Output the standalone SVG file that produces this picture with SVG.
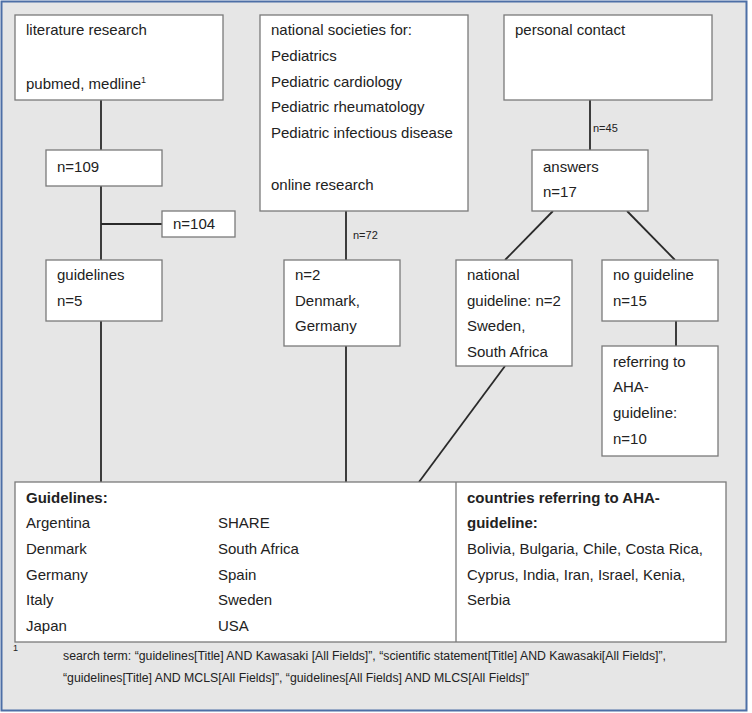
<svg xmlns="http://www.w3.org/2000/svg" width="752" height="713" viewBox="0 0 752 713">
<style>
text{font-family:"Liberation Sans",Arial,sans-serif;font-size:15px;fill:#222}
.b{font-weight:bold}
.s{font-size:11px}
.f{font-size:12px}
.sup{font-size:9px}
.box{fill:#fff;stroke:#7a7a7a;stroke-width:1.3}
.ln{stroke:#2a2a2a;stroke-width:1.8;fill:none}
</style>
<rect x="1.5" y="1.5" width="745" height="709" fill="#e6e6e6" stroke="#4d6fa6" stroke-width="2"/>
<g id="connectors">
<line class="ln" x1="101" y1="100" x2="101" y2="150"/>
<line class="ln" x1="101" y1="186" x2="101" y2="260"/>
<line class="ln" x1="101" y1="224" x2="162" y2="224"/>
<line class="ln" x1="101" y1="321" x2="101" y2="482"/>
<line class="ln" x1="346" y1="211" x2="346" y2="260"/>
<line class="ln" x1="346" y1="346" x2="346" y2="482"/>
<line class="ln" x1="590" y1="100" x2="590" y2="150"/>
<line class="ln" x1="553" y1="211" x2="505" y2="260"/>
<line class="ln" x1="627" y1="211" x2="675" y2="260"/>
<line class="ln" x1="505" y1="366" x2="419" y2="482"/>
<line class="ln" x1="676" y1="321" x2="676" y2="346"/>
<text class="s" x="353" y="239">n=72</text>
<text class="s" x="593" y="132">n=45</text>
</g>
<g id="lit">
<rect class="box" x="15" y="15" width="208" height="85"/>
<text x="26" y="35">literature research</text>
<text x="26" y="89">pubmed, medline<tspan class="sup" dy="-6">1</tspan></text>
</g>
<g id="n109">
<rect class="box" x="46" y="150" width="116" height="36"/>
<text x="57" y="172">n=109</text>
</g>
<g id="n104">
<rect class="box" x="162" y="211" width="73" height="26"/>
<text x="173" y="229">n=104</text>
</g>
<g id="guidelines5">
<rect class="box" x="46" y="260" width="116" height="61"/>
<text x="57" y="280">guidelines</text>
<text x="57" y="306">n=5</text>
</g>
<g id="societies">
<rect class="box" x="260" y="15" width="208" height="196"/>
<text x="271" y="35">national societies for:</text>
<text x="271" y="61">Pediatrics</text>
<text x="271" y="87">Pediatric cardiology</text>
<text x="271" y="112">Pediatric rheumatology</text>
<text x="271" y="138">Pediatric infectious disease</text>
<text x="271" y="190">online research</text>
</g>
<g id="n2">
<rect class="box" x="284" y="260" width="116" height="86"/>
<text x="295" y="280">n=2</text>
<text x="295" y="306">Denmark,</text>
<text x="295" y="331">Germany</text>
</g>
<g id="personal">
<rect class="box" x="504" y="15" width="208" height="85"/>
<text x="515" y="35">personal contact</text>
</g>
<g id="answers">
<rect class="box" x="532" y="150" width="116" height="61"/>
<text x="543" y="172">answers</text>
<text x="543" y="197">n=17</text>
</g>
<g id="national">
<rect class="box" x="456" y="260" width="116" height="106"/>
<text x="467" y="280">national</text>
<text x="467" y="306">guideline: n=2</text>
<text x="467" y="331">Sweden,</text>
<text x="467" y="357">South Africa</text>
</g>
<g id="noguide">
<rect class="box" x="602" y="260" width="116" height="61"/>
<text x="613" y="280">no guideline</text>
<text x="613" y="306">n=15</text>
</g>
<g id="referring">
<rect class="box" x="602" y="346" width="116" height="110"/>
<text x="613" y="367">referring to</text>
<text x="613" y="392">AHA-</text>
<text x="613" y="418">guideline:</text>
<text x="613" y="444">n=10</text>
</g>
<g id="summary">
<rect class="box" x="15" y="482" width="711" height="160"/>
<line x1="456" y1="482" x2="456" y2="642" stroke="#7a7a7a" stroke-width="1.3"/>
<text class="b" x="26" y="503">Guidelines:</text>
<text x="26" y="528">Argentina</text>
<text x="26" y="554">Denmark</text>
<text x="26" y="580">Germany</text>
<text x="26" y="605">Italy</text>
<text x="26" y="631">Japan</text>
<text x="218" y="528">SHARE</text>
<text x="218" y="554">South Africa</text>
<text x="218" y="580">Spain</text>
<text x="218" y="605">Sweden</text>
<text x="218" y="631">USA</text>
<text class="b" x="467" y="503">countries referring to AHA-</text>
<text class="b" x="467" y="528">guideline:</text>
<text x="467" y="554">Bolivia, Bulgaria, Chile, Costa Rica,</text>
<text x="467" y="580">Cyprus, India, Iran, Israel, Kenia,</text>
<text x="467" y="605">Serbia</text>
</g>
<g id="footnote">
<text class="sup" x="13" y="651">1</text>
<text class="f" x="63" y="660" textLength="603" lengthAdjust="spacingAndGlyphs">search term: “guidelines[Title] AND Kawasaki [All Fields]”, “scientific statement[Title] AND Kawasaki[All Fields]”,</text>
<text class="f" x="63" y="682" textLength="466" lengthAdjust="spacingAndGlyphs">“guidelines[Title] AND MCLS[All Fields]”, “guidelines[All Fields] AND MLCS[All Fields]”</text>
</g>
</svg>
